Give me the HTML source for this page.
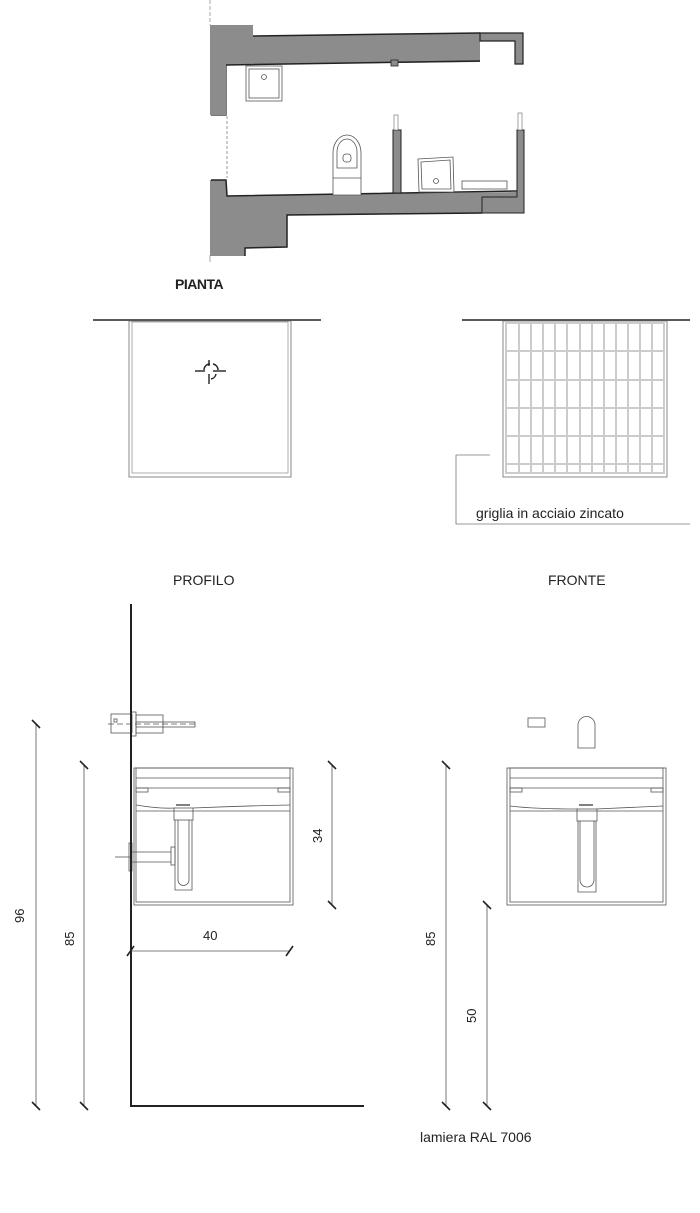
<!DOCTYPE html>
<html><head><meta charset="utf-8"><style>
html,body{margin:0;padding:0;background:#fff}
svg{display:block}
text{font-family:"Liberation Sans",sans-serif;fill:#222}
</style></head><body>
<svg width="700" height="1213" viewBox="0 0 700 1213" xmlns="http://www.w3.org/2000/svg">
<!-- Floor plan -->
<g stroke="#222" stroke-width="1" fill="#8c8c8c">
<line x1="210" y1="0" x2="210" y2="25" stroke="#aaa" stroke-dasharray="4,2"/>
<line x1="210" y1="255" x2="210" y2="262" stroke="#aaa"/>
<path d="M210,25 L253,25 L253,36 L480,33 L480,62 L226,65 L226,115 L211,115 Z" stroke="none"/>
<path d="M253,36 L480,33 M226,65 L480,61" fill="none" stroke-width="1.5"/>
<path d="M226,65 L226,115 L211,115" fill="none" stroke-width="1.2"/>
<path d="M210,180 L226,180 L227,196 L517,192 L517,197 L482,197 L482,213 L287,215 L287,247 L245,248 L245,256 L210,256 Z" stroke="none"/>
<path d="M211,180 L226,180 L227,196 L517,191 M482,213 L287,215 L287,247 L245,248 L245,256" fill="none" stroke-width="1.5"/>
<rect x="210" y="25" width="16" height="90" stroke="none"/>
<line x1="227" y1="116" x2="227" y2="178" stroke="#999" stroke-dasharray="3,2" fill="none"/>
<path d="M480,33 L523,33 L523,64 L515,64 L515,41 L480,41 Z" stroke-width="1.2"/>
<path d="M482,197 L517,197 L517,130 L524,130 L524,213 L482,213 Z" stroke-width="1"/>
<rect x="393" y="130" width="8" height="63" stroke-width="1"/>
<rect x="394" y="115" width="4" height="15" fill="#fff" stroke="#666" stroke-width="0.6"/>
<rect x="518" y="113" width="4" height="17" fill="#fff" stroke="#666" stroke-width="0.6"/>
<rect x="391" y="60" width="7" height="6" stroke-width="0.8"/>
</g>
<g fill="#fff" stroke="#555" stroke-width="0.8">
<rect x="246" y="66" width="36" height="35"/><rect x="249" y="69" width="30" height="29"/><circle cx="264" cy="77" r="2.5"/>
<path d="M333,195 L333,153 A14,18 0 0 1 361,153 L361,195 Z"/>
<path d="M337,168 L337,152 A10,13 0 0 1 357,152 L357,168 Z"/><rect x="343" y="154" width="8" height="8" rx="3"/>
<line x1="333" y1="178" x2="361" y2="178"/>
<path d="M418,159 L453,157 L454,192 L419,192 Z"/><path d="M421,162 L450,160 L451,189 L422,189 Z"/><circle cx="436" cy="181" r="2.5"/>
<rect x="462" y="181" width="45" height="8"/>
</g>
<text x="175" y="289" font-size="14" font-weight="bold" letter-spacing="-0.5">PIANTA</text>

<!-- Top views -->
<line x1="93" y1="320" x2="321" y2="320" stroke="#222" stroke-width="1.5"/>
<rect x="129" y="321" width="162" height="156" fill="none" stroke="#888" stroke-width="1"/>
<rect x="132" y="322" width="156" height="151" fill="none" stroke="#999" stroke-width="0.8"/>
<g stroke="#222" stroke-width="1.4" fill="none">
<path d="M204,370 A6,6 0 0 1 210,364 M213,364 A6,6 0 0 1 218,370 M216,374 A6,6 0 0 1 211,379"/>
<line x1="195" y1="371" x2="205" y2="371"/><line x1="213" y1="371" x2="226" y2="371"/>
<line x1="209" y1="360" x2="209" y2="366"/><line x1="209" y1="374" x2="209" y2="384"/>
</g>
<line x1="462" y1="320" x2="690" y2="320" stroke="#222" stroke-width="1.5"/>
<rect x="503" y="321" width="164" height="156" fill="none" stroke="#888" stroke-width="1"/>
<g stroke="#ccc" stroke-width="2" fill="none">
<line x1="506" y1="322" x2="506" y2="474"/><line x1="519" y1="322" x2="519" y2="474"/><line x1="531" y1="322" x2="531" y2="474"/><line x1="543" y1="322" x2="543" y2="474"/><line x1="555" y1="322" x2="555" y2="474"/><line x1="567" y1="322" x2="567" y2="474"/><line x1="580" y1="322" x2="580" y2="474"/><line x1="592" y1="322" x2="592" y2="474"/><line x1="604" y1="322" x2="604" y2="474"/><line x1="616" y1="322" x2="616" y2="474"/><line x1="628" y1="322" x2="628" y2="474"/><line x1="640" y1="322" x2="640" y2="474"/><line x1="652" y1="322" x2="652" y2="474"/><line x1="664" y1="322" x2="664" y2="474"/>
<line x1="505" y1="323" x2="665" y2="323"/><line x1="505" y1="351" x2="665" y2="351"/><line x1="505" y1="380" x2="665" y2="380"/><line x1="505" y1="408" x2="665" y2="408"/><line x1="505" y1="436" x2="665" y2="436"/><line x1="505" y1="464" x2="665" y2="464"/><line x1="505" y1="473" x2="665" y2="473"/>
</g>
<path d="M490,455 L456,455 L456,524 L690,524" fill="none" stroke="#777" stroke-width="0.8"/>
<text x="476" y="518" font-size="14">griglia in acciaio zincato</text>

<text x="173" y="585" font-size="14">PROFILO</text>
<text x="548" y="585" font-size="14">FRONTE</text>

<!-- Profile -->
<g fill="none" stroke="#555" stroke-width="0.8">
<rect x="111" y="714" width="21" height="19"/><rect x="114" y="719" width="3" height="3"/>
<rect x="131" y="712" width="5" height="24"/><rect x="136" y="715" width="27" height="18"/>
<rect x="136" y="722" width="59" height="5"/>
<line x1="108" y1="724" x2="195" y2="724" stroke-dasharray="6,3"/>
<rect x="134" y="768" width="159" height="137"/>
<rect x="136" y="768" width="154" height="134"/>
<line x1="136" y1="778" x2="290" y2="778"/><line x1="136" y1="788" x2="290" y2="788"/>
<rect x="136" y="788" width="12" height="4"/><rect x="278" y="788" width="12" height="4"/>
<path d="M136,805 Q160,809 175,808 M193,808 Q240,806 290,805"/>
<line x1="136" y1="811" x2="290" y2="811"/>
<rect x="174" y="808" width="19" height="12"/><line x1="176" y1="805" x2="190" y2="805" stroke-width="1.5"/>
<path d="M175,820 L175,890 L192,890 L192,820 M178,820 L178,880 A5,5 0 0 0 189,880 L189,820"/>
<rect x="171" y="847" width="4" height="18"/>
<path d="M131,852 L171,852 M131,862 L171,862"/>
<line x1="115" y1="857" x2="131" y2="857"/><rect x="129" y="843" width="3" height="28"/>
</g>
<path d="M131,604 L131,1106 L364,1106" fill="none" stroke="#222" stroke-width="2"/>
<!-- Front -->
<g fill="none" stroke="#555" stroke-width="0.8">
<rect x="528" y="718" width="17" height="9"/>
<path d="M578,748 L578,725 A8.5,8.5 0 0 1 595,725 L595,748 Z"/>
<rect x="507" y="768" width="159" height="137"/>
<rect x="510" y="768" width="153" height="134"/>
<line x1="510" y1="778" x2="663" y2="778"/><line x1="510" y1="788" x2="663" y2="788"/>
<rect x="510" y="788" width="12" height="4"/><rect x="651" y="788" width="12" height="4"/>
<path d="M510,806 Q535,809 578,809 M596,809 Q640,807 663,806"/>
<line x1="510" y1="811" x2="663" y2="811"/>
<rect x="577" y="809" width="20" height="12"/><line x1="579" y1="805" x2="593" y2="805" stroke-width="1.5"/>
<path d="M578,821 L578,892 L596,892 L596,821 M580,821 L580,880 A6,6 0 0 0 594,880 L594,821"/>
</g>
<!-- Dimensions -->
<g stroke="#555" stroke-width="0.8">
<line x1="36" y1="724" x2="36" y2="1106"/><line x1="84" y1="765" x2="84" y2="1106"/>
<line x1="332" y1="765" x2="332" y2="905"/><line x1="131" y1="951" x2="290" y2="951"/>
<line x1="446" y1="765" x2="446" y2="1106"/><line x1="487" y1="905" x2="487" y2="1106"/>
</g>
<g stroke="#222" stroke-width="1.6">
<line x1="32" y1="720" x2="40" y2="728"/><line x1="32" y1="1102" x2="40" y2="1110"/>
<line x1="80" y1="761" x2="88" y2="769"/><line x1="80" y1="1102" x2="88" y2="1110"/>
<line x1="328" y1="761" x2="336" y2="769"/><line x1="328" y1="901" x2="336" y2="909"/>
<line x1="127" y1="956" x2="134" y2="946"/><line x1="286" y1="956" x2="293" y2="946"/>
<line x1="442" y1="761" x2="450" y2="769"/><line x1="442" y1="1102" x2="450" y2="1110"/>
<line x1="483" y1="901" x2="491" y2="909"/><line x1="483" y1="1102" x2="491" y2="1110"/>
</g>
<g font-size="13">
<text transform="translate(24,923) rotate(-90)">96</text>
<text transform="translate(74,946) rotate(-90)">85</text>
<text transform="translate(322,843) rotate(-90)">34</text>
<text x="203" y="940">40</text>
<text transform="translate(435,946) rotate(-90)">85</text>
<text transform="translate(476,1023) rotate(-90)">50</text>
</g>
<text x="420" y="1142" font-size="14">lamiera RAL 7006</text>
</svg>
</body></html>
